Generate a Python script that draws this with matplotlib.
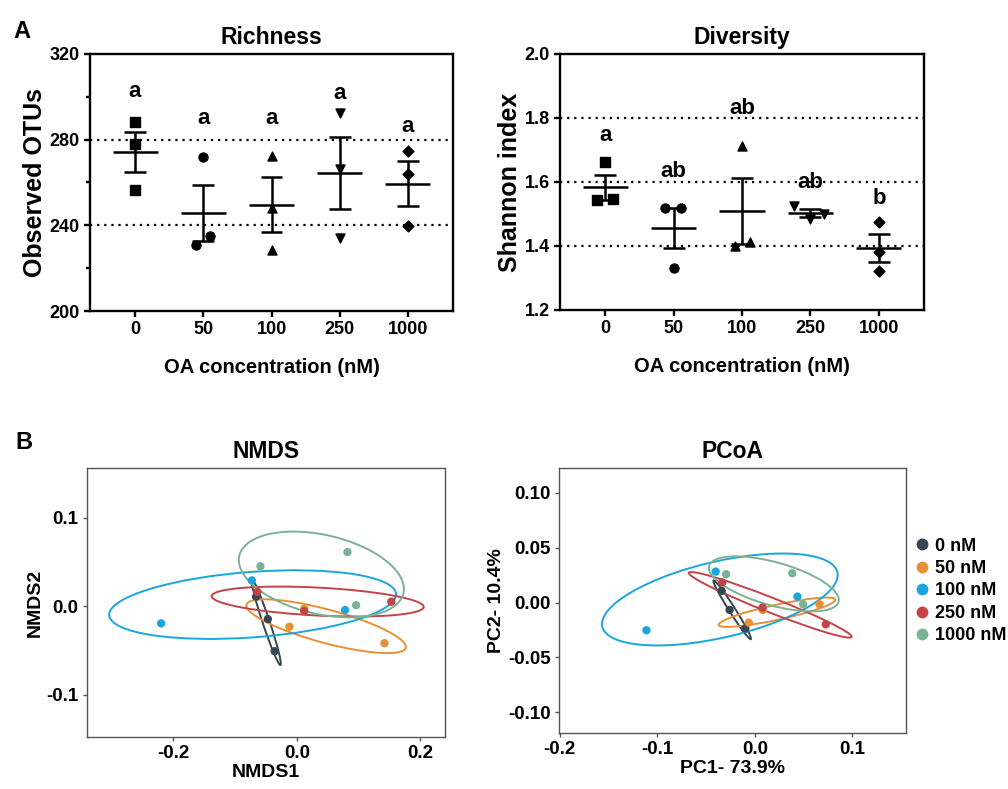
import matplotlib
matplotlib.use("Agg")
import matplotlib.pyplot as plt
import numpy as np
from matplotlib.patches import Ellipse
from matplotlib.lines import Line2D

plt.rcParams["font.family"] = ["Liberation Sans", "DejaVu Sans"]
plt.rcParams["font.weight"] = "bold"

# ---- panel A data ----
conc_labels = ["0", "50", "100", "250", "1000"]
conc_markers = ["s", "o", "^", "v", "D"]

richness = [
    [288.4, 277.9, 256.7],
    [271.7, 234.9, 230.7],
    [272.3, 248.3, 228.4],
    [292.3, 266.5, 234.3],
    [274.8, 263.9, 239.6],
]
richness_dx = [[0, 0, 0], [0, 0.1, -0.1], [0, 0, 0], [0, 0, 0], [0, 0, 0]]
richness_letters = ["a", "a", "a", "a", "a"]
richness_letter_y = [302.4, 290, 290, 301.6, 286.3]

shannon = [
    [1.661, 1.543, 1.546],
    [1.520, 1.520, 1.330],
    [1.714, 1.400, 1.414],
    [1.524, 1.483, 1.501],
    [1.474, 1.382, 1.323],
]
shannon_dx = [[0, -0.12, 0.11], [-0.12, 0.11, 0], [0, -0.1, 0.11], [-0.24, 0, 0.2], [0, 0, 0]]
shannon_letters = ["a", "ab", "ab", "ab", "b"]
shannon_letter_y = [1.744, 1.632, 1.830, 1.598, 1.547]

# ---- panel B data ----
groups = ["0 nM", "50 nM", "100 nM", "250 nM", "1000 nM"]
colors = ["#37474f", "#e69138", "#1aa6dd", "#c24448", "#79b396"]

nmds_x = [
    [-0.066, -0.047, -0.036],
    [-0.012, 0.142, 0.012],
    [-0.073, -0.220, 0.078],
    [-0.064, 0.012, 0.153],
    [-0.059, 0.082, 0.096],
]
nmds_y = [
    [0.0106, -0.0147, -0.051],
    [-0.0234, -0.042, -0.003],
    [0.029, -0.0196, -0.0045],
    [0.016, -0.0057, 0.0049],
    [0.045, 0.061, 0.001],
]

pcoa_x = [
    [-0.034, -0.0258, -0.0097],
    [-0.0061, 0.0082, 0.0663],
    [-0.0401, -0.111, 0.0437],
    [-0.0333, 0.0079, 0.0728],
    [-0.0294, 0.0384, 0.0495],
]
pcoa_y = [
    [0.0107, -0.0067, -0.0237],
    [-0.0183, -0.0067, -0.0015],
    [0.0283, -0.0253, 0.0055],
    [0.0183, -0.0046, -0.0198],
    [0.0259, 0.0268, -0.0015],
]

ELLIPSE_SCALE = 1.56


def dot_panel(ax, values, dx, letters, letter_y, title, ylabel, ylim, yticks, minor=None):
    for i, vals in enumerate(values):
        vals = np.array(vals)
        m = vals.mean()
        sem = vals.std(ddof=1) / np.sqrt(len(vals))
        ax.scatter(i + np.array(dx[i]), vals, marker=conc_markers[i], color="black",
                   s=42 if conc_markers[i] != "D" else 30, zorder=3)
        ax.hlines(m, i - 0.33, i + 0.33, color="black", lw=1.8, zorder=4)
        ax.hlines([m - sem, m + sem], i - 0.16, i + 0.16, color="black", lw=1.8, zorder=4)
        ax.vlines(i, m - sem, m + sem, color="black", lw=1.8, zorder=4)
        ax.text(i, letter_y[i], letters[i], ha="center", va="center", fontsize=16, fontweight="bold")
    for yy in yticks[1:-1]:
        ax.axhline(yy, color="black", lw=1.6, ls=(0, (1, 2.2)), zorder=1)
    ax.set_xlim(-0.66, 4.66)
    ax.set_ylim(*ylim)
    ax.set_xticks(range(5))
    ax.set_xticklabels(conc_labels)
    ax.set_yticks(yticks)
    if minor is not None:
        ax.set_yticks(minor, minor=True)
    for s in ax.spines.values():
        s.set_linewidth(1.7)
    ax.tick_params(which="both", width=1.7, labelsize=13, pad=3)
    ax.tick_params(which="major", length=4.5)
    ax.tick_params(which="minor", length=3)
    ax.set_title(title, fontsize=16.5, fontweight="bold", pad=7)
    ax.set_ylabel(ylabel, fontsize=18, fontweight="bold", labelpad=2)
    ax.set_xlabel("OA concentration (nM)", fontsize=14.5, fontweight="bold", labelpad=14)


def conf_ellipse(ax, x, y, color):
    x = np.array(x)
    y = np.array(y)
    cov = np.cov(x, y)
    vals, vecs = np.linalg.eigh(cov)
    order = vals.argsort()[::-1]
    vals, vecs = vals[order], vecs[:, order]
    angle = np.degrees(np.arctan2(vecs[1, 0], vecs[0, 0]))
    w, h = 2 * ELLIPSE_SCALE * np.sqrt(vals)
    e = Ellipse((x.mean(), y.mean()), w, h, angle=angle, fill=False,
                edgecolor=color, lw=1.4, zorder=2)
    ax.add_patch(e)


def ord_panel(ax, xs, ys, title, xlabel, ylabel, xlim, ylim, xticks, yticks, yfmt):
    for i in range(len(groups)):
        conf_ellipse(ax, xs[i], ys[i], colors[i])
        ax.scatter(xs[i], ys[i], color=colors[i], s=36, zorder=3, edgecolors="none")
    ax.set_xlim(*xlim)
    ax.set_ylim(*ylim)
    ax.set_xticks(xticks)
    ax.set_xticklabels([f"{v:.1f}" for v in xticks])
    ax.set_yticks(yticks)
    ax.set_yticklabels([yfmt.format(v) for v in yticks])
    for s in ax.spines.values():
        s.set_color("#555555")
        s.set_linewidth(1.0)
    ax.tick_params(length=3, width=1, color="#555555", labelsize=13.5, pad=3)
    ax.set_title(title, fontsize=16.5, fontweight="bold", pad=7)
    ax.set_xlabel(xlabel, fontsize=14, fontweight="bold", labelpad=1)
    ax.set_ylabel(ylabel, fontsize=14, fontweight="bold", labelpad=2)


fig = plt.figure(figsize=(10.08, 7.89), dpi=100)
W, H = 1008, 789
ax1 = fig.add_axes([90 / W, 1 - 311 / H, 363 / W, 257 / H])
ax2 = fig.add_axes([560 / W, 1 - 310 / H, 364 / W, 256 / H])
ax3 = fig.add_axes([87 / W, 1 - 737 / H, 358 / W, 269 / H])
ax4 = fig.add_axes([559 / W, 1 - 733 / H, 347 / W, 265 / H])

dot_panel(ax1, richness, richness_dx, richness_letters, richness_letter_y,
          "Richness", "Observed OTUs", (200, 320), [200, 240, 280, 320], minor=[220, 260, 300])
dot_panel(ax2, shannon, shannon_dx, shannon_letters, shannon_letter_y,
          "Diversity", "Shannon index", (1.2, 2.0), [1.2, 1.4, 1.6, 1.8, 2.0])
ax2.set_yticklabels(["1.2", "1.4", "1.6", "1.8", "2.0"])

ord_panel(ax3, nmds_x, nmds_y, "NMDS", "NMDS1", "NMDS2",
          (-0.34, 0.24), (-0.148, 0.156), [-0.2, 0.0, 0.2], [-0.1, 0.0, 0.1], "{:.1f}")
ord_panel(ax4, pcoa_x, pcoa_y, "PCoA", "PC1- 73.9%", "PC2- 10.4%",
          (-0.2007, 0.155), (-0.119, 0.1228), [-0.2, -0.1, 0.0, 0.1],
          [-0.10, -0.05, 0.0, 0.05, 0.10], "{:.2f}")

handles = [Line2D([], [], marker="o", ls="none", color=c, markersize=7.5) for c in colors]
ax4.legend(handles, groups, loc="center left", bbox_to_anchor=(1.025, 0.536),
           frameon=False, fontsize=13, handlelength=0.8, handletextpad=0.3,
           borderpad=0, borderaxespad=0, labelspacing=0.3)

fig.text(22 / W, 1 - 31 / H, "A", fontsize=17, fontweight="bold", ha="center", va="center")
fig.text(24 / W, 1 - 442 / H, "B", fontsize=17, fontweight="bold", ha="center", va="center")

fig.savefig("out.png", dpi=100)
